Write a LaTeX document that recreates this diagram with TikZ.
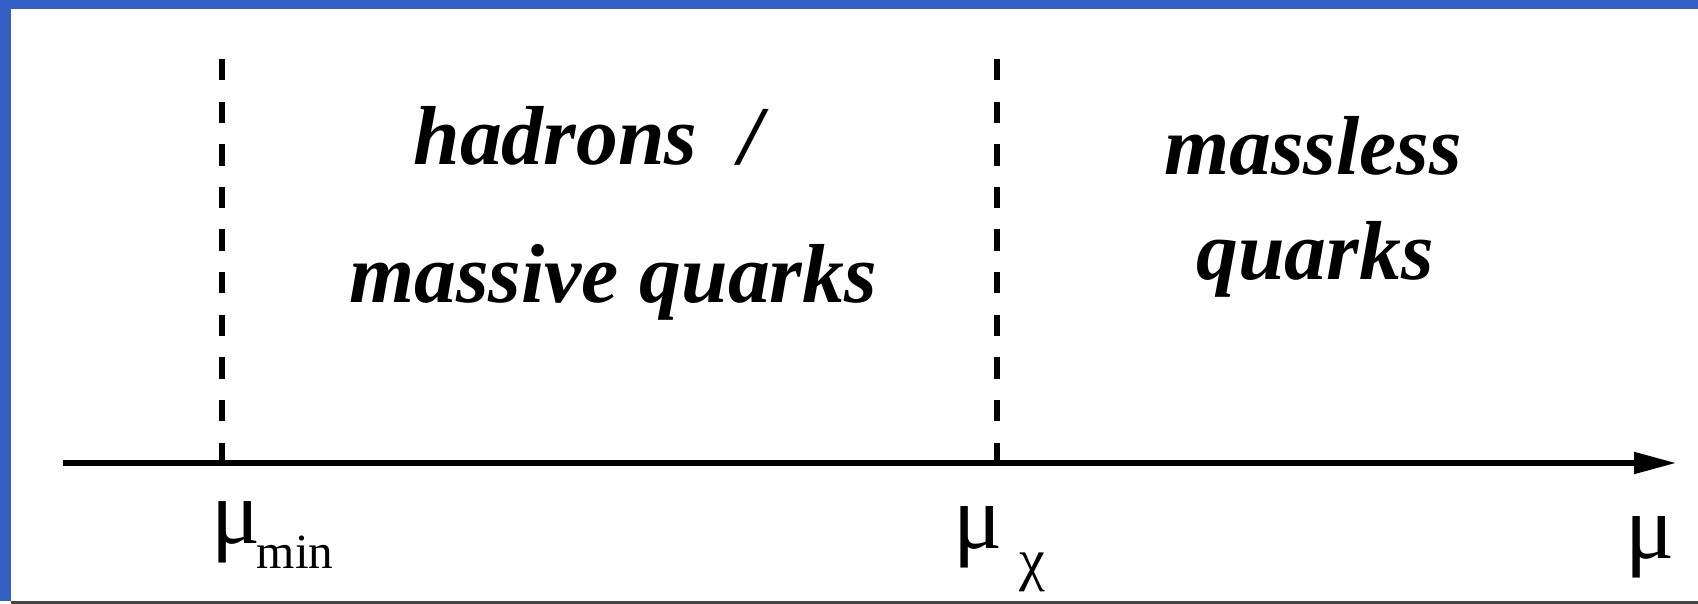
\documentclass[tikz,border=0pt]{standalone}
\usepackage{fontspec}
\setmainfont{Liberation Serif}
\usetikzlibrary{arrows.meta}
\definecolor{frameblue}{RGB}{51,94,196}
\definecolor{framegray}{RGB}{70,70,70}
\tikzset{
  region/.style={font=\fontsize{23.8}{28}\selectfont\bfseries\itshape, inner sep=0pt, anchor=base},
  scalelabel/.style={font=\fontsize{26}{30}\selectfont, inner sep=0pt, anchor=base},
  sublabel/.style={font=\fontsize{14}{16}\selectfont, inner sep=0pt, anchor=base},
  threshold/.style={line width=0.06cm, dash pattern=on 0.213cm off 0.213cm},
}
\begin{document}
\begin{tikzpicture}[x=0.01cm, y=-0.01cm]
  % Frame
  \useasboundingbox (0,0) rectangle (1698,604);
  \fill[white] (0,0) rectangle (1698,604);
  \fill[frameblue] (0,0) rectangle (1698,9);
  \fill[frameblue] (0,0) rectangle (11,601);
  \fill[framegray] (11,601) rectangle (1698,604);
  % Scale axis
  \coordinate (axstart) at (63,463);
  \coordinate (axend) at (1676,463);
  \draw[line width=0.05cm, -{Triangle[length=0.42cm, width=0.21cm]}] (axstart) -- (axend);
  % Thresholds
  \coordinate (mintop) at (222,59);
  \coordinate (minbot) at (222,463);
  \draw[threshold] (mintop) -- (minbot);
  \coordinate (chitop) at (997,59);
  \coordinate (chibot) at (997,463);
  \draw[threshold] (chitop) -- (chibot);
  % Regions
  \node[region] (hadrons) at (588,165) {hadrons\ \ /};
  \node[region] (massive) at (613,303) {massive quarks};
  \node[region] (massless) at (1313,175) {massless};
  \node[region] (quarks) at (1315,280) {quarks};
  % Scale labels
  \node[scalelabel] (mumin) at (236,543) {μ};
  \node[sublabel] (minsub) at (295,568) {min};
  \node[scalelabel] (muchi) at (978,548) {μ};
  \node[sublabel, font=\fontsize{16.5}{18}\selectfont] (chisub) at (1032,579) {χ};
  \node[scalelabel] (mu) at (1650,558) {μ};
\end{tikzpicture}
\end{document}
